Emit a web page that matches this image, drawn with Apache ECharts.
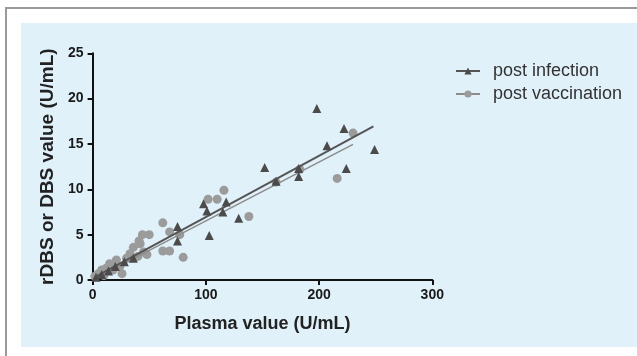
<!DOCTYPE html>
<html>
<head>
<meta charset="utf-8">
<script src="https://cdn.jsdelivr.net/npm/echarts@6/dist/echarts.min.js"></script>
<style>
  html, body { margin: 0; padding: 0; background: #fff; }
  #main { width: 637px; height: 356px; }
</style>
</head>
<body>
<div id="main"></div>
<script>
// points, [plasma, rDBS/DBS]
var postInfection = [
  [3, 0.3], [8, 0.6], [14, 1.0], [20, 1.5], [28, 2.0], [36, 2.4],
  [75, 5.9], [75, 4.3], [98, 8.4], [101, 7.6], [103, 4.9], [115, 7.5],
  [118, 8.6], [129, 6.8], [152, 12.4], [162, 10.9], [182, 12.3], [182, 11.4],
  [198, 18.9], [207, 14.8], [222, 16.7], [224, 12.3], [249, 14.4]
]
var postVaccination = [
  [2, 0.4], [5, 0.7], [8, 1.1], [10, 0.5], [12, 1.3], [15, 1.8], [18, 1.1],
  [21, 2.2], [24, 1.5], [26, 0.7], [30, 2.4], [33, 2.9], [36, 3.6], [40, 2.6],
  [41, 4.3], [42, 4.0], [45, 3.1], [44, 5.0], [48, 2.8], [50, 5.0], [62, 6.3],
  [62, 3.2], [68, 5.3], [68, 3.2], [77, 5.0], [80, 2.5], [102, 8.9], [110, 8.9],
  [116, 9.9], [138, 7.0], [162, 10.8], [183, 12.2], [216, 11.2], [230, 16.2]
]
// regression line end points
var fitInfection = [[2, 0.33], [248, 16.95]]
var fitVaccination = [[2, 0.15], [230, 14.95]]

var xTicks = [0, 100, 200, 300]
var yTicks = [0, 5, 10, 15, 20, 25]

var darkGrey = '#4b4b4b'
var lightGrey = '#9b9b9b'
var font = 'Liberation Sans, Arial, Helvetica, sans-serif'

var myChart = echarts.init(document.getElementById('main'))
myChart.setOption({
  animation: false,
  textStyle: { fontFamily: font },
  graphic: [
    { type: 'rect', shape: { x: 6, y: 8, width: 640, height: 360 },
      style: { fill: '#fff', stroke: '#9a9a9a', lineWidth: 2 }, z: -10 },
    { type: 'rect', shape: { x: 21, y: 23, width: 620, height: 324 },
      style: { fill: '#e0f1fa' }, z: -9 }
  ],
  grid: { left: 92.6, right: 204.7, top: 53.3, bottom: 76 },
  legend: {
    orient: 'vertical',
    left: 450,
    top: 57,
    itemWidth: 24,
    itemHeight: 9,
    itemGap: 5,
    data: ['post infection', 'post vaccination'],
    textStyle: { fontSize: 18, color: '#333', fontFamily: font, padding: [0, 0, 0, 8] }
  },
  xAxis: {
    type: 'value',
    min: xTicks[0],
    max: xTicks[xTicks.length - 1],
    interval: 100,
    name: 'Plasma value (U/mL)',
    nameLocation: 'middle',
    nameGap: 35,
    nameTextStyle: { fontSize: 18, fontWeight: 'bold', color: '#222' },
    splitLine: { show: false },
    axisLine: { lineStyle: { color: '#111', width: 2 } },
    axisTick: { length: 5, lineStyle: { width: 2, color: '#111' } },
    axisLabel: { fontSize: 14, fontWeight: 'bold', color: '#1a1a1a', margin: 8 }
  },
  yAxis: {
    type: 'value',
    min: yTicks[0],
    max: yTicks[yTicks.length - 1],
    interval: 5,
    name: 'rDBS or DBS value (U/mL)',
    nameLocation: 'middle',
    nameGap: 31,
    nameTextStyle: { fontSize: 19, fontWeight: 'bold', color: '#222' },
    splitLine: { show: false },
    axisLine: { lineStyle: { color: '#111', width: 2 } },
    axisTick: { length: 5, lineStyle: { width: 2, color: '#111' } },
    axisLabel: { fontSize: 14, fontWeight: 'bold', color: '#1a1a1a', margin: 9 }
  },
  series: [{
    name: 'post infection',
    type: 'line',
    data: fitInfection,
    showSymbol: false,
    symbol: 'triangle',
    symbolSize: 8,
    itemStyle: { color: darkGrey },
    lineStyle: { color: '#555', width: 2 },
    z: 3
  }, {
    name: 'post vaccination',
    type: 'line',
    data: fitVaccination,
    showSymbol: false,
    symbol: 'circle',
    symbolSize: 8,
    itemStyle: { color: lightGrey },
    lineStyle: { color: '#8c8c8c', width: 1.5 },
    z: 3
  }, {
    name: 'post vaccination',
    type: 'scatter',
    data: postVaccination,
    symbol: 'circle',
    symbolSize: 9,
    itemStyle: { color: lightGrey, opacity: 1 },
    z: 2
  }, {
    name: 'post infection',
    type: 'scatter',
    data: postInfection,
    symbol: 'triangle',
    symbolSize: 9,
    itemStyle: { color: darkGrey, opacity: 1 },
    z: 4
  }]
})
</script>
</body>
</html>
